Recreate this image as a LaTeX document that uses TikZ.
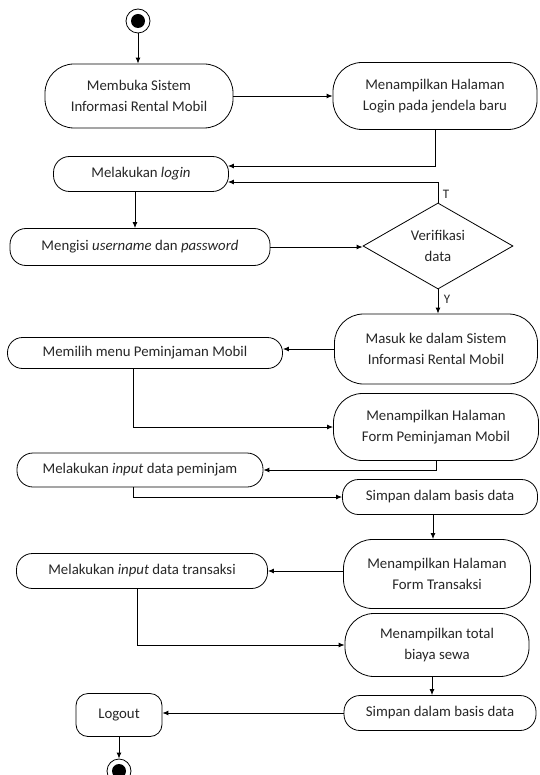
\documentclass[tikz,border=0pt]{standalone}
\usepackage{fontspec}
\setmainfont{Carlito}
\usetikzlibrary{arrows.meta,shapes.geometric}
\begin{document}
\begin{tikzpicture}[x=1pt,y=-1pt,
  every node/.style={font=\fontsize{14.8}{21.5}\selectfont, text=black!85},
  tall/.style={draw, line width=0.8pt, align=center, inner sep=0pt, rounded corners=29pt},
  flat/.style={draw, line width=0.8pt, align=center, inner sep=0pt, rounded corners=16pt},
  dec/.style={draw, line width=0.8pt, diamond, align=center, inner sep=0pt},
  lbl/.style={font=\fontsize{13}{15}\selectfont, inner sep=0pt},
  arr/.style={line width=0.9pt, -{Latex[length=6pt,width=5pt]}},
]
\useasboundingbox (0,0) rectangle (539,775);

% start / end
\node[circle, draw, line width=0.8pt, minimum size=24pt, inner sep=0pt] (start) at (138,21) {};
\fill (start.center) circle (7pt);
\node[circle, draw, line width=0.8pt, minimum size=24pt, inner sep=0pt] (end) at (119,771) {};
\fill (end.center) circle (7pt);

% actions
\node[tall, minimum width=188, minimum height=64] (m1) at (139,96) {Membuka Sistem\\Informasi Rental Mobil};
\node[tall, minimum width=204, minimum height=67] (m2) at (435,96) {Menampilkan Halaman\\Login pada jendela baru};
\node[flat, minimum width=175, minimum height=35] (m3) at (141,174) {Melakukan \textit{login}};
\node[flat, minimum width=260, minimum height=37] (m4) at (140,247) {Mengisi \textit{username} dan \textit{password}};
\node[dec, minimum width=150, minimum height=85] (d) at (438,246) {Verifikasi\\data};
\node[tall, minimum width=203, minimum height=70] (m5) at (436,349) {Masuk ke dalam Sistem\\Informasi Rental Mobil};
\node[flat, minimum width=275, minimum height=31, rounded corners=15pt] (m6) at (145,353) {Memilih menu Peminjaman Mobil};
\node[tall, minimum width=205, minimum height=67] (m7) at (436,427) {Menampilkan Halaman\\Form Peminjaman Mobil};
\node[flat, minimum width=246, minimum height=34] (m8) at (140,470) {Melakukan \textit{input} data peminjam};
\node[flat, minimum width=195, minimum height=35] (m9) at (440,497) {Simpan dalam basis data};
\node[tall, minimum width=187, minimum height=69] (m10) at (437,574) {Menampilkan Halaman\\Form Transaksi};
\node[flat, minimum width=251, minimum height=35] (m11) at (142,571) {Melakukan \textit{input} data transaksi};
\node[tall, minimum width=184, minimum height=63] (m12) at (437,645) {Menampilkan total\\biaya sewa};
\node[flat, minimum width=192, minimum height=35] (m13) at (440,713) {Simpan dalam basis data};
\node[draw, line width=0.8pt, rounded corners=12pt, minimum width=86, minimum height=43, inner sep=0pt] (lo) at (119,715) {Logout};

% labels
\node[lbl] (t) at (446,194) {T};
\node[lbl] (y) at (447,299) {Y};

% connectors
\draw[arr] (start.south) -- (start.south |- m1.north);
\draw[arr] (m1.east) -- (m1.east -| m2.west);
\draw[arr] (m2.south) |- ([xshift=-1pt,yshift=8pt]m3.east);
\draw[arr] (d.north) |- ([xshift=-1pt,yshift=-8pt]m3.east);
\draw[arr] ([xshift=-6pt]m3.south) -- ([xshift=-6pt]m3.south |- m4.north);
\draw[arr] (m4.east) -- (m4.east -| d.west);
\draw[arr] (d.south) -- (d.south |- m5.north);
\draw[arr] (m5.west) -- (m5.west -| m6.east);
\draw[arr] ([xshift=-12pt]m6.south) |- (m7.west);
\draw[arr] (m7.south) |- (m8.east);
\draw[arr] ([xshift=-7pt]m8.south) |- (m9.west);
\draw[arr] ([xshift=-7pt]m9.south) -- ([xshift=-7pt]m9.south |- m10.north);
\draw[arr] (m10.west |- m11.east) -- (m11.east);
\draw[arr] ([xshift=-5pt]m11.south) |- (m12.west);
\draw[arr] ([xshift=-5pt]m12.south) -- ([xshift=-5pt]m12.south |- m13.north);
\draw[arr] (m13.west) -- (m13.west -| lo.east);
\draw[arr] (lo.south) -- (end.north);
\end{tikzpicture}
\end{document}
